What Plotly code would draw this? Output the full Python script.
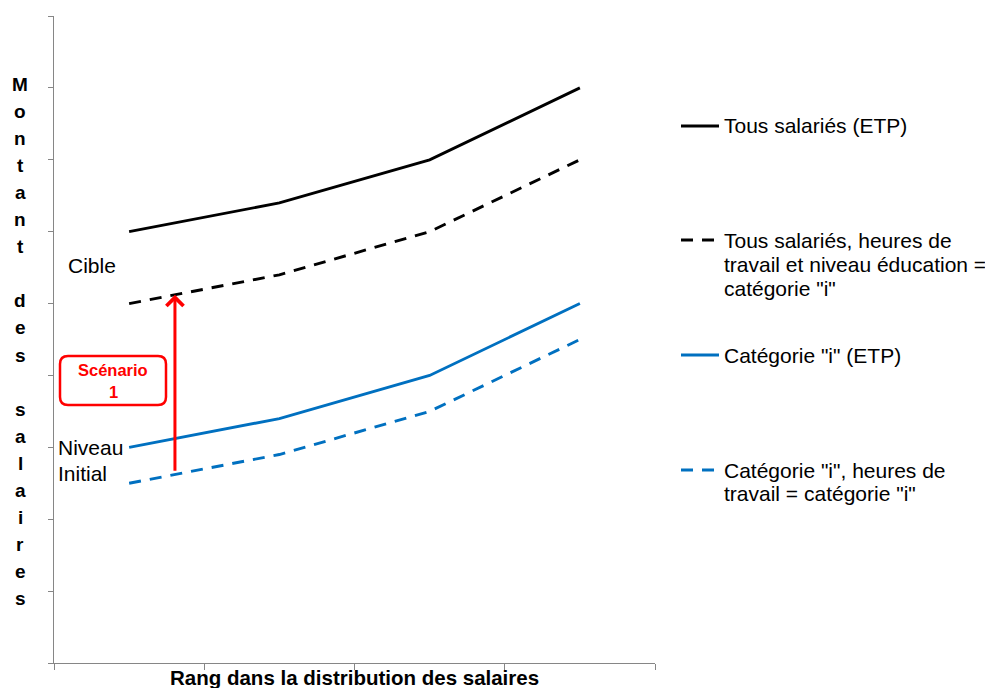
import plotly.graph_objects as go

# ---- data ----
x_pos = [0, 1, 2, 3]  # ranks in the wage distribution (no labels shown)
tous_etp = [6.0, 6.4, 7.0, 8.0]
tous_heures_educ = [5.0, 5.4, 6.0, 7.0]
cat_i_etp = [3.0, 3.4, 4.0, 5.0]
cat_i_heures = [2.5, 2.9, 3.5, 4.5]

legend_names = [
    ["Tous salariés (ETP)"],
    ["Tous salariés, heures de", "travail et niveau éducation =", "catégorie \"i\""],
    ["Catégorie \"i\" (ETP)"],
    ["Catégorie \"i\", heures de", "travail = catégorie \"i\""],
]
y_title = "Montant des salaires"
x_title = "Rang dans la distribution des salaires"

BLACK = "#000000"
BLUE = "#0070C0"
RED = "#FF0000"
FONT = "Liberation Sans, Arial, sans-serif"

W, H = 985, 688
L, R, T, B = 54, 330, 16, 25
PW, PH = W - L - R, H - T - B

def px(xp):
    return (xp - L) / PW

def py(yp):
    return (H - B - yp) / PH

fig = go.Figure()
styles = [(tous_etp, BLACK, "solid"), (tous_heures_educ, BLACK, "12px,9px"),
          (cat_i_etp, BLUE, "solid"), (cat_i_heures, BLUE, "12px,9px")]
for (vals, col, dash), names in zip(styles, legend_names):
    fig.add_trace(go.Scatter(x=x_pos, y=vals, mode="lines", name=" ".join(names),
                             line=dict(color=col, width=2.9, dash=dash), showlegend=False))

annotations = []
shapes = []

# custom legend
leg_rows = [[126], [240, 264, 288], [355], [470, 493]]
for (vals, col, dash), names, rows in zip(styles, legend_names, leg_rows):
    shapes.append(dict(type="line", xref="paper", yref="paper", x0=px(681), x1=px(719),
                       y0=py(rows[0]), y1=py(rows[0]),
                       line=dict(color=col, width=2.9, dash=dash)))
    for nm, yr in zip(names, rows):
        annotations.append(dict(text=nm, xref="paper", yref="paper", x=px(722), y=py(yr),
                                xanchor="left", yanchor="middle", showarrow=False,
                                font=dict(family=FONT, size=21, color="#000000")))

# vertical axis title, one letter per row
for i, ch in enumerate(y_title):
    if ch == " ":
        continue
    annotations.append(dict(text=ch, xref="paper", yref="paper", x=px(20), y=py(84 + 27.1 * i),
                            xanchor="center", yanchor="middle", showarrow=False,
                            font=dict(family=FONT, size=19, color="#000000", weight="bold")))

# x axis title
annotations.append(dict(text="<b>" + x_title + "</b>", xref="paper", yref="paper", x=0.5, y=py(677),
                        xanchor="center", yanchor="middle", showarrow=False,
                        font=dict(family=FONT, size=20.5, color="#000000")))

# labels in plot
annotations.append(dict(text="Cible", xref="paper", yref="paper", x=px(66), y=py(265),
                        xanchor="left", yanchor="middle", showarrow=False,
                        font=dict(family=FONT, size=21, color="#000000")))
annotations.append(dict(text="Niveau", xref="paper", yref="paper", x=px(56), y=py(447),
                        xanchor="left", yanchor="middle", showarrow=False,
                        font=dict(family=FONT, size=21, color="#000000")))
annotations.append(dict(text="Initial", xref="paper", yref="paper", x=px(56), y=py(473),
                        xanchor="left", yanchor="middle", showarrow=False,
                        font=dict(family=FONT, size=21, color="#000000")))

# Scénario box
bx0, bx1, by0, by1, r = px(60), px(166), py(405), py(356), 8
rx, ry = r / PW, r / PH
path = (f"M{bx0+rx},{by0} L{bx1-rx},{by0} Q{bx1},{by0} {bx1},{by0+ry} "
        f"L{bx1},{by1-ry} Q{bx1},{by1} {bx1-rx},{by1} L{bx0+rx},{by1} "
        f"Q{bx0},{by1} {bx0},{by1-ry} L{bx0},{by0+ry} Q{bx0},{by0} {bx0+rx},{by0} Z")
shapes.append(dict(type="path", xref="paper", yref="paper", path=path,
                   line=dict(color=RED, width=2.5), fillcolor="white"))
annotations.append(dict(text="<b>Scénario</b>", xref="paper", yref="paper", x=px(113), y=py(370),
                        xanchor="center", yanchor="middle", showarrow=False,
                        font=dict(family=FONT, size=16.5, color=RED)))
annotations.append(dict(text="<b>1</b>", xref="paper", yref="paper", x=px(113), y=py(392),
                        xanchor="center", yanchor="middle", showarrow=False,
                        font=dict(family=FONT, size=16.5, color=RED)))

# arrow from initial level to target
ax_x = 0.305
y_from = cat_i_heures[0] + ax_x * (cat_i_heures[1] - cat_i_heures[0])
y_to = tous_heures_educ[0] + ax_x * (tous_heures_educ[1] - tous_heures_educ[0])
annotations.append(dict(x=ax_x, y=y_to, ax=ax_x, ay=y_from + 0.03, xref="x", yref="y",
                        axref="x", ayref="y", text="", showarrow=True, arrowhead=4,
                        arrowsize=1.1, arrowwidth=3, arrowcolor=RED, standoff=0))

fig.update_layout(
    width=W, height=H,
    margin=dict(l=L, r=R, t=T, b=B),
    paper_bgcolor="white", plot_bgcolor="white",
    xaxis=dict(range=[-0.5, 3.5], tickvals=[-0.5, 0.5, 1.5, 2.5, 3.5], showticklabels=False,
               ticks="outside", ticklen=6, tickcolor="#868686", showline=True,
               linecolor="#868686", linewidth=1, showgrid=False, zeroline=False, fixedrange=True),
    yaxis=dict(range=[0, 9], dtick=1, showticklabels=False, ticks="outside", ticklen=5,
               tickcolor="#868686", showline=True, linecolor="#868686", linewidth=1,
               showgrid=False, zeroline=False, fixedrange=True),
    annotations=annotations,
    shapes=shapes,
    showlegend=False,
)

fig.write_html("out.html", config={"displayModeBar": False},
               post_script="document.body.style.margin='0';document.body.style.overflow='hidden';")
